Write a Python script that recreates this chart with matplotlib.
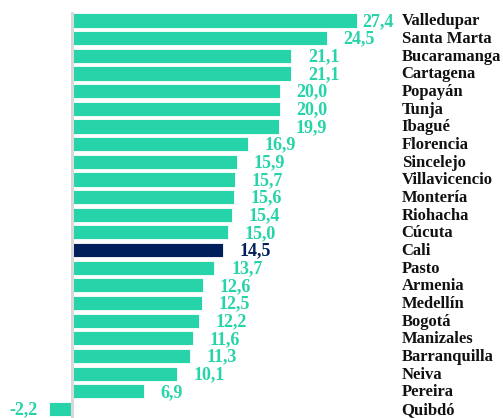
import matplotlib.pyplot as plt

# data
cities = ['Valledupar', 'Santa Marta', 'Bucaramanga', 'Cartagena', 'Popayán', 'Tunja',
          'Ibagué', 'Florencia', 'Sincelejo', 'Villavicencio', 'Montería', 'Riohacha',
          'Cúcuta', 'Cali', 'Pasto', 'Armenia', 'Medellín', 'Bogotá', 'Manizales',
          'Barranquilla', 'Neiva', 'Pereira', 'Quibdó']
values = [27.4, 24.5, 21.1, 21.1, 20.0, 20.0, 19.9, 16.9, 15.9, 15.7, 15.6, 15.4,
          15.0, 14.5, 13.7, 12.6, 12.5, 12.2, 11.6, 11.3, 10.1, 6.9, -2.2]
highlight = 'Cali'

teal = '#27d3a8'
navy = '#001f5b'

fig = plt.figure(figsize=(5.03, 4.18), dpi=100)
ax = fig.add_axes([0, 0, 1, 1])

px = 10.4  # pixels per unit
ax.set_xlim(-72 / px, (503 - 72) / px)
ax.set_ylim((418 - 20.5) / 17.66, -20.5 / 17.66)

ypos = list(range(len(cities)))
colors = [navy if c == highlight else teal for c in cities]
ax.barh(ypos, values, height=0.8, color=colors, edgecolor='white', linewidth=0.6, zorder=2)

ax.plot([0, 0], [-0.45, 23], color='#d9d9d9', lw=2.2, zorder=3)

vfont = dict(family='Liberation Serif', fontweight='bold', fontsize=13)
cfont = dict(family='Liberation Serif', fontweight='bold', fontsize=12)
gap = 1.6          # label offset from bar end (data units)
lab_w = 3.2        # approx label width
lab_limit = 30.96  # labels may not go past this
for y, v, c, col in zip(ypos, values, cities, colors):
    lab = f'{v:.1f}'.replace('.', ',')
    if v >= 0:
        if v + gap + lab_w > lab_limit:
            ax.text(lab_limit, y + 0.05, lab, color=col, ha='right', va='center', **vfont)
        else:
            ax.text(v + gap, y + 0.05, lab, color=col, ha='left', va='center', **vfont)
    else:
        ax.text(v - 1.15, y + 0.05, lab, color=col, ha='right', va='center', **vfont)
    ax.text(31.7, y + 0.05, c, color='#111111', ha='left', va='center', **cfont)

ax.axis('off')
fig.savefig('out.png', dpi=100)
